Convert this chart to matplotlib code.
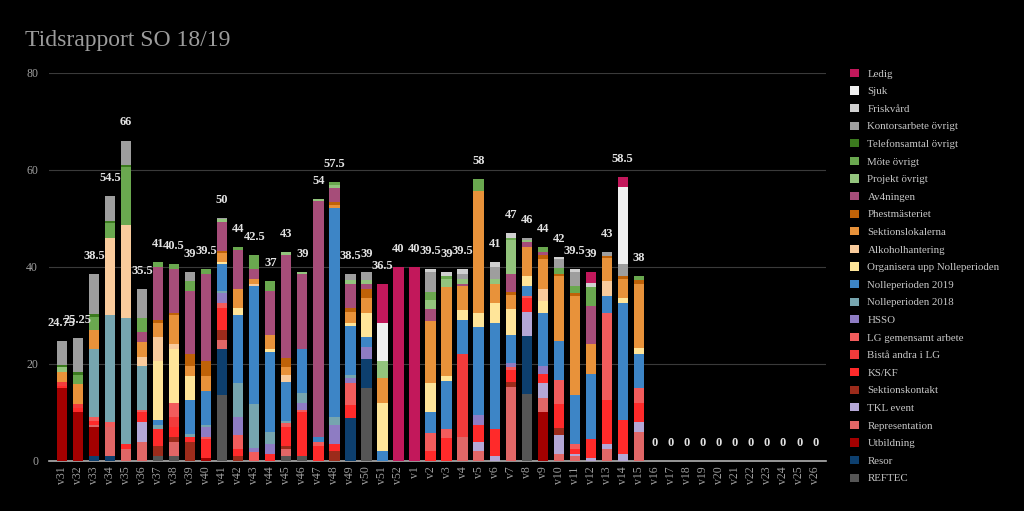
import numpy as np
import matplotlib
matplotlib.use("Agg")
import matplotlib.pyplot as plt
from matplotlib.patches import Patch

plt.rcParams['font.family'] = ['Liberation Serif', 'DejaVu Serif']

weeks = ['v31', 'v32', 'v33', 'v34', 'v35', 'v36', 'v37', 'v38', 'v39', 'v40',
         'v41', 'v42', 'v43', 'v44', 'v45', 'v46', 'v47', 'v48', 'v49', 'v50',
         'v51', 'v52', 'v1', 'v2', 'v3', 'v4', 'v5', 'v6', 'v7', 'v8',
         'v9', 'v10', 'v11', 'v12', 'v13', 'v14', 'v15', 'v16', 'v17', 'v18',
         'v19', 'v20', 'v21', 'v22', 'v23', 'v24', 'v25', 'v26']

# hours per category and week (v31 .. v26), bottom of the stack first
reftec = [0, 0, 0, 0, 0, 0, 1, 1, 0, 0, 13.5, 0, 0, 0, 1, 1, 0, 0, 0, 15,
          0, 0, 0, 0, 0, 0, 0, 0, 0, 13.75, 0, 0, 0, 0, 0, 0, 0,
          0, 0, 0, 0, 0, 0, 0, 0, 0, 0, 0]
resor = [0, 0, 1, 1, 0, 0, 0, 0, 0, 0, 9.5, 0, 0, 0, 0, 0, 0, 0, 8.75, 6,
         0, 0, 0, 0, 0, 0, 0, 0, 0, 12, 0, 0, 0, 0, 0, 0, 0,
         0, 0, 0, 0, 0, 0, 0, 0, 0, 0, 0]
utbildning = [15, 10, 6, 0, 0, 0, 0, 0, 0, 0.5, 0, 0, 0, 0, 0, 0, 0, 0, 0, 0,
              0, 0, 0, 0, 0, 0, 0, 0, 0, 0, 10, 0, 0, 0, 0, 0, 0,
              0, 0, 0, 0, 0, 0, 0, 0, 0, 0, 0]
representation = [0, 0, 0.5, 6, 2.5, 4, 0, 3, 0, 0, 2, 0, 0, 0, 1.5, 0, 0, 0, 0, 0,
                  0, 0, 0, 0, 0, 5, 2, 0, 15.25, 0, 3, 1.5, 1, 0, 2.5, 0, 6,
                  0, 0, 0, 0, 0, 0, 0, 0, 0, 0, 0]
tkl_event = [0, 0, 0, 0, 0, 4, 0, 0, 0, 0, 0, 0, 0, 0, 0, 0, 0, 0, 0, 0,
             0, 0, 0, 0, 0, 0, 2, 1, 0, 5, 3, 3.75, 0.5, 0.5, 1, 1.5, 2,
             0, 0, 0, 0, 0, 0, 0, 0, 0, 0, 0]
sektionskontakt = [0, 0, 0, 0, 0, 0, 2, 1, 4, 0, 2, 1, 0, 0, 0.5, 0, 0, 2, 0, 0,
                   0, 0, 0, 0, 0, 0, 0, 0, 1, 0, 0, 1.5, 0, 0, 0, 0, 0,
                   0, 0, 0, 0, 0, 0, 0, 0, 0, 0, 0]
ks_kf = [0.5, 1, 0.75, 0, 1, 2, 3.5, 2, 1, 4, 4.5, 1.5, 0, 1.5, 4, 9, 3, 1.5, 2.75, 0,
         0, 0, 0, 2, 4.75, 0, 3.5, 5.5, 2.5, 2.75, 2, 5, 1, 4, 9, 7, 4,
         0, 0, 0, 0, 0, 0, 0, 0, 0, 0, 0]
bista = [0.75, 0.75, 0, 0, 0, 0, 0, 2, 0, 0, 0, 0, 0, 0, 0, 0, 0, 0, 0, 0,
         0, 0, 0, 0, 0, 17, 0, 0, 0, 0, 0, 0, 0, 0, 0, 0, 0,
         0, 0, 0, 0, 0, 0, 0, 0, 0, 0, 0]
lg_gemensamt = [0, 0, 0.75, 1, 0, 0.5, 0, 3, 0, 0.5, 1, 2.75, 1.75, 0, 0.75, 0.5, 1, 0, 4.5, 0,
                0, 0, 0, 3.75, 1.75, 0, 0, 0, 0.5, 0.5, 0, 5, 1, 0, 18, 0, 3,
                0, 0, 0, 0, 0, 0, 0, 0, 0, 0, 0]
hsso = [0, 0, 0, 0, 0, 0, 0, 0, 0, 2, 2, 3.75, 1, 2, 0, 1.5, 0, 4, 1, 2.5,
        0, 0, 0, 0, 0, 0, 2, 0, 1, 0, 1.5, 0, 0, 0, 0, 0, 0,
        0, 0, 0, 0, 0, 0, 0, 0, 0, 0, 0]
nolle_2018 = [0, 0, 14, 22, 26, 9, 1, 0, 0.5, 0.5, 0.5, 7, 9, 2.5, 0.5, 2, 0, 1.5, 0.75, 0,
              0, 0, 0, 0, 0, 0, 0, 0, 0, 0, 0, 0, 0, 0, 0, 0, 0,
              0, 0, 0, 0, 0, 0, 0, 0, 0, 0, 0]
nolle_2019 = [0, 0, 0, 0, 0, 0, 1, 0, 7, 7, 5.5, 14, 24.25, 16.5, 8, 9, 1, 43, 10, 2,
              2, 0, 0, 4.25, 10, 7, 18, 22, 5.75, 2, 11, 8, 10, 13.5, 3.5, 24, 7,
              0, 0, 0, 0, 0, 0, 0, 0, 0, 0, 0]
organisera = [0, 0, 0, 0, 0, 0, 12, 11, 5, 0, 0.5, 1.5, 0, 0.5, 0, 0, 0, 0, 0.75, 5,
              10, 0, 0, 6, 1, 2, 3, 4, 5.25, 2, 2.5, 0, 0, 0, 0, 1, 1.25,
              0, 0, 0, 0, 0, 0, 0, 0, 0, 0, 0]
alkohol = [0, 0, 0, 16, 19, 2, 5, 1, 0, 0, 0, 0, 0.5, 0, 1.5, 0, 0, 0, 0, 0,
           0, 0, 0, 0, 0, 0, 0, 0, 0, 0, 2.5, 0, 0, 0, 3, 0, 0,
           0, 0, 0, 0, 0, 0, 0, 0, 0, 0, 0]
sektionslokalerna = [2, 4, 4, 0, 0, 3, 3, 6, 2, 3, 1.75, 4, 1, 3, 1.5, 0, 0, 0.75, 2.25, 3,
                     5, 0, 0, 12.75, 18.25, 5, 25, 4, 3, 6, 6, 13.25, 20.5, 6, 4.75, 4, 13.25,
                     0, 0, 0, 0, 0, 0, 0, 0, 0, 0, 0]
phest = [0, 0, 0, 0, 0, 0, 0.5, 0.5, 2.5, 3, 0.5, 0, 0, 0, 2, 0, 0, 0.5, 0.75, 2,
         0, 0, 0, 0, 0, 0, 0, 0, 0.5, 0, 1, 0.5, 0.5, 0, 0.5, 0.5, 0.75,
         0, 0, 0, 0, 0, 0, 0, 0, 0, 0, 0]
av4ningen = [0, 0, 0, 0, 0, 2, 11, 9, 13, 18, 6, 8, 2, 9, 21.25, 15.5, 48.5, 3, 5, 1,
             0, 0, 0, 2.5, 0, 0.5, 0, 0, 3.75, 1, 0.5, 0, 0, 8, 0, 0, 0,
             0, 0, 0, 0, 0, 0, 0, 0, 0, 0, 0]
projekt = [1, 0, 0, 0, 0, 0, 0, 0, 0, 0, 0.5, 0, 0, 0, 0.5, 0.5, 0.5, 0.5, 0.75, 0.75,
           3.5, 0, 0, 2, 1.75, 1, 0, 1, 7, 0.5, 0, 0, 0, 0, 0, 0, 0,
           0, 0, 0, 0, 0, 0, 0, 0, 0, 0, 0]
mote = [0, 2, 2.75, 3, 12, 3, 1, 1, 2, 1, 0, 0.5, 3, 2, 0, 0, 0, 0.75, 0, 0,
        0, 0, 0, 1.5, 0.5, 0, 2.5, 0, 0.5, 0, 1, 1.25, 1.5, 3.75, 0, 0, 0.75,
        0, 0, 0, 0, 0, 0, 0, 0, 0, 0, 0]
telefon = [0.5, 0.5, 0.5, 0.5, 0.5, 0, 0, 0, 0, 0, 0, 0, 0, 0, 0, 0, 0, 0, 0, 0,
           0, 0, 0, 0, 0, 0, 0, 0, 0, 0, 0, 0, 0, 0, 0, 0, 0,
           0, 0, 0, 0, 0, 0, 0, 0, 0, 0, 0]
kontor = [5, 7, 8.25, 5, 5, 6, 0, 0, 2, 0, 0.25, 0, 0, 0, 0, 0, 0, 0, 1.25, 1.75,
          0, 0, 0, 4.25, 0, 1, 0, 2.5, 0, 0.5, 0, 1.75, 3, 0, 0.75, 2.5, 0,
          0, 0, 0, 0, 0, 0, 0, 0, 0, 0, 0]
friskvard = [0, 0, 0, 0, 0, 0, 0, 0, 0, 0, 0, 0, 0, 0, 0, 0, 0, 0, 0, 0,
             0, 0, 0, 0.5, 1, 1, 0, 1, 1, 0, 0, 0.5, 0.5, 1, 0, 0, 0,
             0, 0, 0, 0, 0, 0, 0, 0, 0, 0, 0]
sjuk = [0, 0, 0, 0, 0, 0, 0, 0, 0, 0, 0, 0, 0, 0, 0, 0, 0, 0, 0, 0,
        8, 0, 0, 0, 0, 0, 0, 0, 0, 0, 0, 0, 0, 0, 0, 16, 0,
        0, 0, 0, 0, 0, 0, 0, 0, 0, 0, 0]
ledig = [0, 0, 0, 0, 0, 0, 0, 0, 0, 0, 0, 0, 0, 0, 0, 0, 0, 0, 0, 0,
         8, 40, 40, 0, 0, 0, 0, 0, 0, 0, 0, 0, 0, 2.25, 0, 2, 0,
         0, 0, 0, 0, 0, 0, 0, 0, 0, 0, 0]

series = [
    ('REFTEC', reftec, '#555555'),
    ('Resor', resor, '#0d3f6e'),
    ('Utbildning', utbildning, '#a30000'),
    ('Representation', representation, '#e06666'),
    ('TKL event', tkl_event, '#b4a7d6'),
    ('Sektionskontakt', sektionskontakt, '#9c2b1b'),
    ('KS/KF', ks_kf, '#ff2a2a'),
    ('Bistå andra i LG', bista, '#f23b3b'),
    ('LG gemensamt arbete', lg_gemensamt, '#f25c5c'),
    ('HSSO', hsso, '#8e7cc3'),
    ('Nolleperioden 2018', nolle_2018, '#76a5af'),
    ('Nolleperioden 2019', nolle_2019, '#3d85c6'),
    ('Organisera upp Nolleperioden', organisera, '#ffe599'),
    ('Alkoholhantering', alkohol, '#f9cb9c'),
    ('Sektionslokalerna', sektionslokalerna, '#e8923a'),
    ('Phestmästeriet', phest, '#bf6208'),
    ('Av4ningen', av4ningen, '#a64d79'),
    ('Projekt övrigt', projekt, '#93c47d'),
    ('Möte övrigt', mote, '#6aa84f'),
    ('Telefonsamtal övrigt', telefon, '#3b7a1e'),
    ('Kontorsarbete övrigt', kontor, '#9e9e9e'),
    ('Friskvård', friskvard, '#d0d0d0'),
    ('Sjuk', sjuk, '#f0f0f0'),
    ('Ledig', ledig, '#c2185b'),
]

fig = plt.figure(figsize=(10.24, 5.11), dpi=100, facecolor='black')
ax = fig.add_axes([0.048, 0.098, 0.759, 0.760], facecolor='black')

x = np.arange(len(weeks))
bottom = np.zeros(len(weeks))
for name, vals, color in series:
    vals = np.array(vals, dtype=float)
    ax.bar(x, vals, 0.64, bottom=bottom, color=color, linewidth=0, zorder=3)
    bottom += vals

for xi, total in zip(x, bottom):
    ax.annotate(f'{total:g}', (xi, total), xytext=(0, 13), textcoords='offset points',
                ha='center', va='center', fontsize=9, fontweight='bold', color='#e2e2e2')

ax.set_xlim(-0.8, 47.7)
ax.set_ylim(0, 80)
ax.set_yticks([0, 20, 40, 60, 80])
ax.set_xticks(x)
ax.set_xticklabels(weeks, rotation=90, fontsize=8.5, color='#a0a0a0')
ax.tick_params(axis='y', labelsize=8.5, colors='#a0a0a0', length=0, pad=8)
ax.tick_params(axis='x', length=0, pad=4)
ax.grid(axis='y', color='#3a3a3a', linewidth=0.8, zorder=0)
for s in ['top', 'right', 'left']:
    ax.spines[s].set_visible(False)
ax.spines['bottom'].set_color('#b0b0b0')
ax.spines['bottom'].set_linewidth(1.2)

handles = [Patch(facecolor=c, label=n) for n, v, c in series][::-1]
leg = fig.legend(handles=handles, loc='upper left', bbox_to_anchor=(0.826, 0.874),
                 frameon=False, fontsize=7.8, labelspacing=0.71, handlelength=0.8,
                 handleheight=0.8, handletextpad=0.8, borderaxespad=0)
for t in leg.get_texts():
    t.set_color('#c8c8c8')

fig.text(0.024, 0.91, 'Tidsrapport SO 18/19', fontsize=17, color='#9c9c9c',
         ha='left', va='baseline')

fig.savefig('out.png', dpi=100, facecolor='black')
